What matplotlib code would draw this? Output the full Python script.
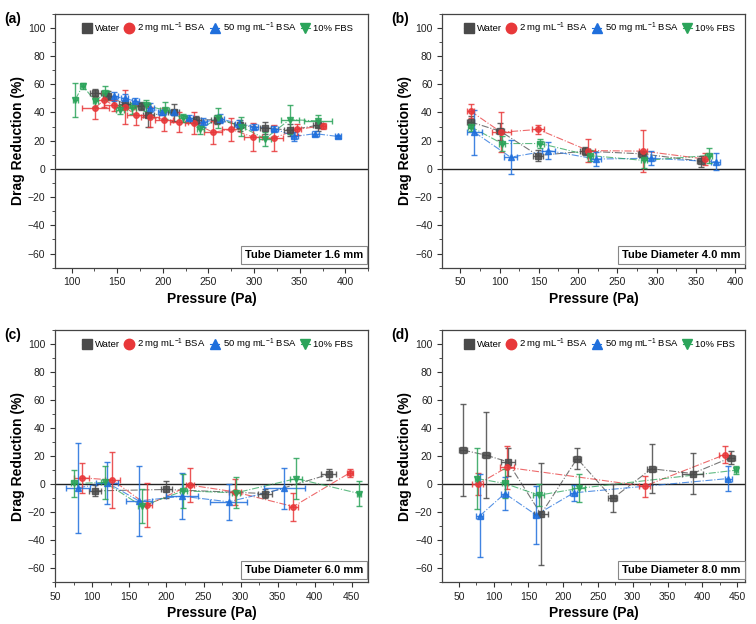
import matplotlib
matplotlib.use("Agg")
import matplotlib.pyplot as plt
from matplotlib.ticker import AutoMinorLocator
from matplotlib.lines import Line2D

plt.rcParams['font.family'] = ['Liberation Sans', 'DejaVu Sans']
plt.rcParams['mathtext.fontset'] = 'custom'
plt.rcParams['mathtext.rm'] = 'Liberation Sans'
plt.rcParams['mathtext.default'] = 'regular'

# ---- data: pressure (Pa) vs drag reduction (%) ----
# (a) tube diameter 1.6 mm
a_water_x = [126, 140, 158, 176, 184, 212, 236, 259, 284, 312, 339, 370]
a_water_y = [54, 52, 46, 44.5, 38, 40, 34.5, 35, 31, 29, 27.5, 31]
a_water_xe = [6, 6, 6, 6, 6, 6, 6, 6, 6, 6, 6, 6]
a_water_ye = [3, 3, 3, 3, 8, 6, 3, 3, 4, 4, 4, 4]
a_bsa2_x = [126, 136, 146, 158, 171, 186, 201, 218, 234, 255, 275, 299, 322, 347, 375]
a_bsa2_y = [43.5, 49, 45, 44, 38, 37, 35, 33, 32.6, 26, 28, 22.6, 22, 28, 30.5]
a_bsa2_xe = [15, 10, 10, 10, 10, 10, 10, 10, 10, 10, 10, 10, 10, 4, 4]
a_bsa2_ye = [8, 5, 4, 12, 7, 7, 8, 7, 8, 8, 8, 10, 9, 4, 2]
a_bsa50_x = [146, 158, 170, 186, 199, 212, 229, 244, 263, 283, 300, 322, 344, 367, 392]
a_bsa50_y = [51.4, 50, 48, 43.5, 40, 40, 36.4, 33, 35.7, 32, 30, 28.6, 23, 25, 23]
a_bsa50_xe = [5, 4, 4, 4, 4, 4, 4, 4, 4, 4, 4, 4, 4, 4, 3]
a_bsa50_ye = [3, 3, 2, 3, 2, 2, 2, 3, 3, 3, 2, 2, 3, 2, 1]
a_fbs_x = [104, 112, 126, 137, 153, 166, 181, 202, 222, 241, 260, 286, 312, 339, 370]
a_fbs_y = [49, 59, 48, 54, 42, 43, 45, 41.7, 36, 28, 36, 30, 21.4, 35, 34]
a_fbs_xe = [3, 3, 3, 4, 4, 5, 5, 5, 4, 4, 4, 4, 7, 10, 15]
a_fbs_ye = [12, 2, 4, 5, 3, 4, 4, 6, 3, 3, 7, 7, 5, 10, 4]

# (b) tube diameter 4.0 mm
b_water_x = [63, 101, 149, 209, 281, 356]
b_water_y = [33.3, 26.7, 9.5, 12.6, 10.7, 5.5]
b_water_xe = [4, 5, 6, 6, 5, 5]
b_water_ye = [4, 6, 4, 3, 2, 4]
b_bsa2_x = [63, 102, 149, 213, 283, 362]
b_bsa2_y = [41, 26, 28, 13, 12.6, 7]
b_bsa2_xe = [5, 12, 8, 8, 5, 4]
b_bsa2_ye = [5, 14, 3, 8, 15, 4]
b_bsa50_x = [68, 114, 162, 223, 293, 375]
b_bsa50_y = [26, 8.3, 13, 7, 7.6, 5]
b_bsa50_xe = [10, 8, 8, 6, 5, 6]
b_bsa50_ye = [16, 12, 6, 5, 5, 6]
b_fbs_x = [63, 103, 152, 215, 284, 366]
b_fbs_y = [30, 18, 18, 9.5, 6, 9.5]
b_fbs_xe = [3, 4, 4, 4, 4, 4]
b_fbs_ye = [3, 5, 3, 4, 5, 5]

# (c) tube diameter 6.0 mm
c_water_x = [104, 200, 333, 419]
c_water_y = [-4.8, -3.8, -6.7, 7]
c_water_xe = [8, 8, 10, 10]
c_water_ye = [4, 6, 3, 4]
c_bsa2_x = [86, 127, 174, 232, 292, 371, 447]
c_bsa2_y = [4.5, 3, -15, -0.7, -5.5, -16, 8]
c_bsa2_xe = [10, 10, 7, 5, 8, 6, 4]
c_bsa2_ye = [10.5, 20, 15.5, 12, 9.5, 10, 3]
c_bsa50_x = [81, 120, 163, 221, 284, 359]
c_bsa50_y = [-2.6, 1, -12, -8.6, -12.6, -3]
c_bsa50_xe = [16, 15, 17, 22, 25, 28]
c_bsa50_ye = [32, 15, 25, 16.5, 13, 14.5]
c_fbs_x = [75, 117, 167, 223, 294, 375, 460]
c_fbs_y = [0.5, 1.2, -15.7, -4.8, -6.2, 4, -6.7]
c_fbs_xe = [4, 5, 5, 5, 5, 8, 3]
c_fbs_ye = [9.5, 11.5, 12, 12, 11, 14.5, 9]

# (d) tube diameter 8.0 mm
d_water_x = [56, 89, 120, 168, 220, 271, 327, 386, 441]
d_water_y = [24.3, 20.7, 16, -21.4, 18.3, -10.2, 11, 7.6, 19]
d_water_xe = [6, 6, 10, 10, 6, 6, 6, 15, 6]
d_water_ye = [33, 30.5, 10, 36.5, 7.5, 10, 17.5, 14.5, 4.5]
d_bsa2_x = [77, 119, 317, 432]
d_bsa2_y = [0, 12, -1.4, 21]
d_bsa2_xe = [8, 10, 8, 8]
d_bsa2_ye = [8, 15.5, 7.5, 6]
d_bsa50_x = [80, 116, 161, 215, 437]
d_bsa50_y = [-22.6, -6.7, -22, -6.2, 4]
d_bsa50_xe = [5, 5, 5, 5, 5]
d_bsa50_ye = [29.5, 11.5, 20.5, 5.5, 9]
d_fbs_x = [76, 116, 165, 222, 449]
d_fbs_y = [4, 0.5, -7.9, -3, 10]
d_fbs_xe = [3, 4, 8, 10, 3]
d_fbs_ye = [22, 10.5, 8, 10, 3]

series_names = ['Water', '2 mg mL$^{-1}$ BSA', '50 mg mL$^{-1}$ BSA', '10% FBS']
series_colors = ['#4a4a4a', '#e8383a', '#1f6fdc', '#2ba45a']
series_markers = ['s', 'o', '^', 'v']

panels = [
    ('(a)', 'Tube Diameter 1.6 mm', (82, 425), [100, 150, 200, 250, 300, 350, 400],
     [(a_water_x, a_water_y, a_water_xe, a_water_ye),
      (a_bsa2_x, a_bsa2_y, a_bsa2_xe, a_bsa2_ye),
      (a_bsa50_x, a_bsa50_y, a_bsa50_xe, a_bsa50_ye),
      (a_fbs_x, a_fbs_y, a_fbs_xe, a_fbs_ye)]),
    ('(b)', 'Tube Diameter 4.0 mm', (27, 413), [50, 100, 150, 200, 250, 300, 350, 400],
     [(b_water_x, b_water_y, b_water_xe, b_water_ye),
      (b_bsa2_x, b_bsa2_y, b_bsa2_xe, b_bsa2_ye),
      (b_bsa50_x, b_bsa50_y, b_bsa50_xe, b_bsa50_ye),
      (b_fbs_x, b_fbs_y, b_fbs_xe, b_fbs_ye)]),
    ('(c)', 'Tube Diameter 6.0 mm', (50, 472), [50, 100, 150, 200, 250, 300, 350, 400, 450],
     [(c_water_x, c_water_y, c_water_xe, c_water_ye),
      (c_bsa2_x, c_bsa2_y, c_bsa2_xe, c_bsa2_ye),
      (c_bsa50_x, c_bsa50_y, c_bsa50_xe, c_bsa50_ye),
      (c_fbs_x, c_fbs_y, c_fbs_xe, c_fbs_ye)]),
    ('(d)', 'Tube Diameter 8.0 mm', (26, 462), [50, 100, 150, 200, 250, 300, 350, 400, 450],
     [(d_water_x, d_water_y, d_water_xe, d_water_ye),
      (d_bsa2_x, d_bsa2_y, d_bsa2_xe, d_bsa2_ye),
      (d_bsa50_x, d_bsa50_y, d_bsa50_xe, d_bsa50_ye),
      (d_fbs_x, d_fbs_y, d_fbs_xe, d_fbs_ye)]),
]

# axes rectangles in figure fractions
rects = [
    [0.073, 0.571, 0.414, 0.407],
    [0.585, 0.571, 0.401, 0.407],
    [0.073, 0.067, 0.414, 0.404],
    [0.585, 0.067, 0.401, 0.404],
]

fig = plt.figure(figsize=(7.56, 6.24), dpi=100)

for (tag, title, xlim, xticks, data), rect in zip(panels, rects):
    ax = fig.add_axes(rect)
    ax.axhline(0, color='#222222', lw=1.0, zorder=1)
    for (x, y, xe, ye), c, m in zip(data, series_colors, series_markers):
        ax.plot(x, y, color=c, lw=0.8, ls='-.', alpha=0.75, zorder=2)
        ax.errorbar(x, y, xerr=xe, yerr=ye, fmt=m, color=c, ms=4,
                    ecolor=c, elinewidth=1.0, capsize=2, capthick=1.0,
                    alpha=0.85, zorder=3)
    ax.set_xlim(*xlim)
    ax.set_ylim(-70, 110)
    ax.set_xticks(xticks)
    ax.set_yticks([-60, -40, -20, 0, 20, 40, 60, 80, 100])
    ax.yaxis.set_minor_locator(AutoMinorLocator(2))
    ax.xaxis.set_minor_locator(AutoMinorLocator(2))
    ax.tick_params(which='both', direction='out', labelsize=7.5, colors='#333333',
                   labelcolor='#222222', top=False, right=False)
    ax.tick_params(which='major', length=3.5, width=0.8)
    ax.tick_params(which='minor', length=2, width=0.6)
    for s in ax.spines.values():
        s.set_color('#444444')
        s.set_linewidth(0.9)
    ax.set_xlabel('Pressure (Pa)', fontsize=10, fontweight='bold', labelpad=3)
    ax.set_ylabel('Drag Reduction (%)', fontsize=10, fontweight='bold', labelpad=2)

    handles = [Line2D([], [], color=c, marker=m, ms=7.5, lw=0.8)
               for c, m in zip(series_colors, series_markers)]
    ax.legend(handles, series_names, loc='upper center', ncol=4, frameon=False,
              fontsize=6.8, handlelength=1.0, handletextpad=0.35,
              columnspacing=0.45, borderaxespad=0.3, bbox_to_anchor=(0.52, 1.0))

    ax.text(0.985, 0.03, title, transform=ax.transAxes, ha='right', va='bottom',
            fontsize=8, fontweight='bold',
            bbox=dict(boxstyle='square,pad=0.35', fc='white', ec='#888888', lw=0.8))

    bb = ax.get_position()
    fig.text(bb.x0 - 0.068, bb.y1 + 0.003, tag, fontsize=10, fontweight='bold',
             ha='left', va='top')

fig.savefig('out.png', dpi=100)
